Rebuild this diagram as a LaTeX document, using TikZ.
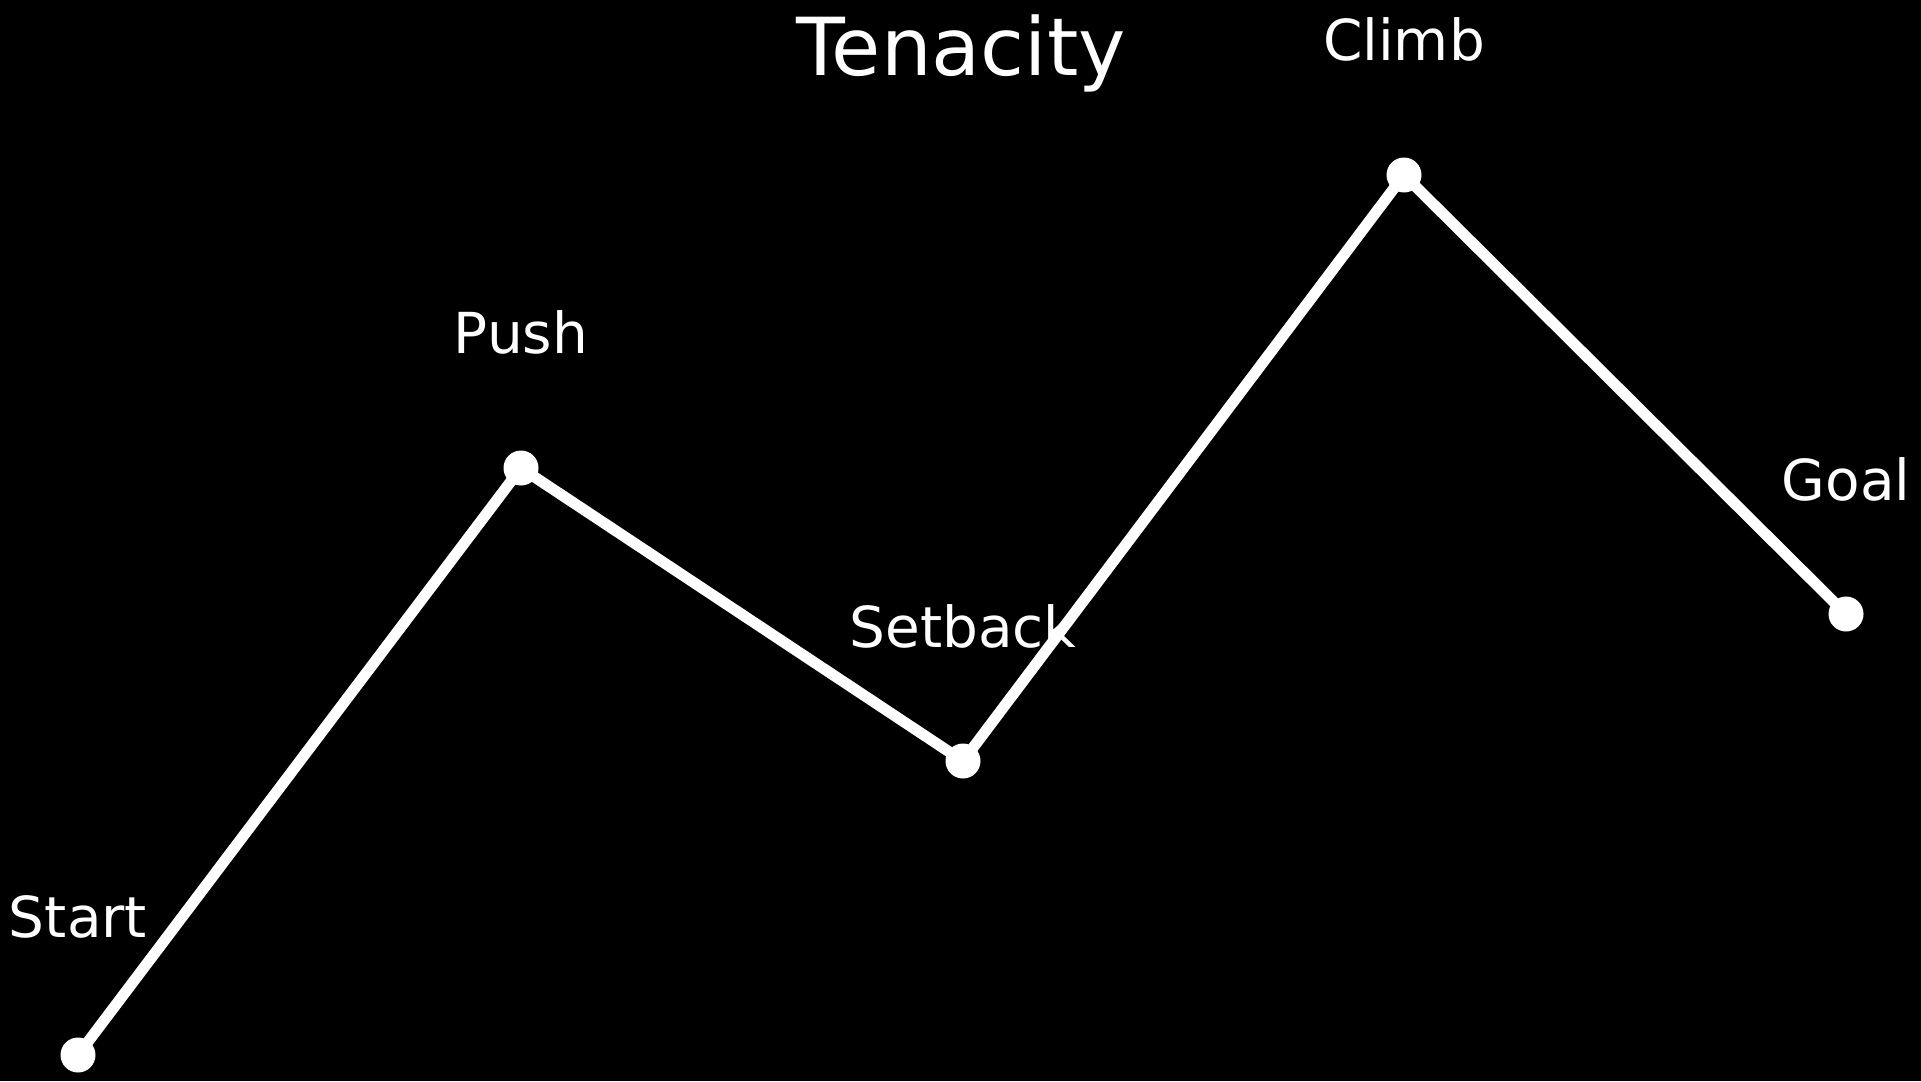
\documentclass[tikz,border=0pt]{standalone}
\usepackage{fontspec}
\setmainfont{DejaVu Sans}
\begin{document}
\begin{tikzpicture}[x=1pt,y=-1pt,
  lbl/.style={text=white,font=\fontsize{56.5}{68}\selectfont,anchor=base,inner sep=0pt},
  ttl/.style={text=white,font=\fontsize{80}{96}\selectfont,anchor=base,inner sep=0pt},
  pathline/.style={draw=white,line width=11pt,line join=round},
  dot/.style={fill=white}]
\fill[black] (0,0) rectangle (1921,1081);
\useasboundingbox (0,0) rectangle (1921,1081);
\coordinate (start) at (78,1055);
\coordinate (push) at (521,468);
\coordinate (setback) at (963,761);
\coordinate (climb) at (1404,175);
\coordinate (goal) at (1846,614);
\draw[pathline] (start) -- (push) -- (setback) -- (climb) -- (goal);
\foreach \p in {start,push,setback,climb,goal}
  \fill[dot] (\p) circle (17.5);
\node[ttl] (title) at (961,75) {Tenacity};
\node[lbl] (lstart) at ([yshift=118]start) {Start};
\node[lbl] (lpush) at ([yshift=115]push) {Push};
\node[lbl] (lsetback) at ([yshift=114]setback) {Setback};
\node[lbl] (lclimb) at ([yshift=114]climb) {Climb};
\node[lbl] (lgoal) at ([yshift=114]goal) {Goal};
\end{tikzpicture}
\end{document}
